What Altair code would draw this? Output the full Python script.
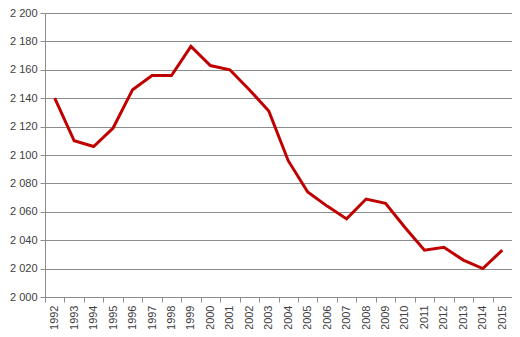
import altair as alt
import pandas as pd

years = [str(y) for y in range(1992, 2016)]
values = [2140, 2110, 2106, 2119, 2146, 2156, 2156, 2176.5, 2163, 2160, 2146, 2131,
          2096, 2074, 2064, 2055, 2069, 2066, 2049, 2033, 2035, 2026, 2020, 2033]
y_ticks = list(range(2000, 2201, 20))

df = pd.DataFrame({"year": years, "value": values})

FONT = "Liberation Sans"
GRID = "#8c8c8c"
TEXT = "#404040"

chart = alt.Chart(df).mark_line(color="#C00000", strokeWidth=3).encode(
    x=alt.X("year:O", sort=years,
            scale=alt.Scale(paddingInner=0, paddingOuter=0),
            axis=alt.Axis(title=None, labelAngle=270, tickBand="extent",
                          domainColor=GRID, tickColor=GRID, tickSize=5,
                          labelColor=TEXT, labelFont=FONT, labelFontSize=11,
                          labelPadding=3, grid=False, labelBaseline="middle",
                          labelAlign="right")),
    y=alt.Y("value:Q", scale=alt.Scale(domain=[2000, 2200], nice=False),
            axis=alt.Axis(title=None, values=y_ticks,
                          labelExpr="replace(format(datum.value, ','), ',', ' ')",
                          domainColor=GRID, tickColor=GRID, tickSize=5,
                          gridColor=GRID, gridWidth=1,
                          labelColor=TEXT, labelFont=FONT, labelFontSize=11,
                          labelPadding=3)),
).properties(
    width=467, height=284,
    autosize=alt.AutoSizeParams(type="none"),
    padding={"left": 37, "top": 5, "right": 0, "bottom": 32},
).configure_view(stroke=None)

chart.save("out.html", embed_options={"renderer": "svg", "actions": False})
